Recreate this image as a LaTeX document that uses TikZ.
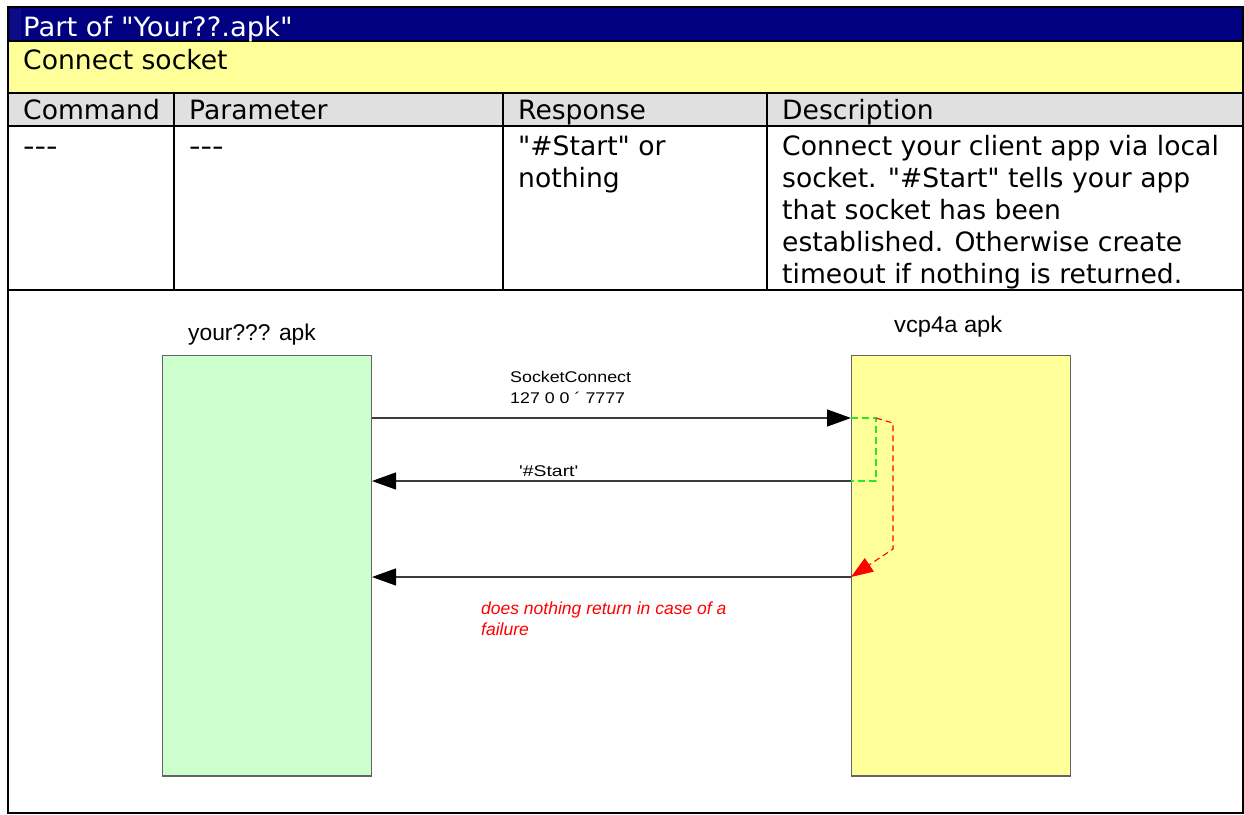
\documentclass[tikz,border=0pt]{standalone}
\usepackage{fontspec}
\newfontfamily\tabfont{DejaVu Sans}
\newfontfamily\diagfont{Liberation Sans}
\usetikzlibrary{arrows.meta}

\definecolor{hdrblue}{RGB}{0,0,128}
\definecolor{hdrstrip}{RGB}{12,12,136}
\definecolor{rowyellow}{RGB}{255,255,153}
\definecolor{rowgray}{RGB}{224,224,224}
\definecolor{appgreen}{RGB}{204,255,204}
\definecolor{appyellow}{RGB}{255,255,153}
\definecolor{boxedge}{RGB}{100,100,100}
\definecolor{msgline}{RGB}{60,60,60}
\definecolor{dashgreen}{RGB}{40,230,40}
\definecolor{dashred}{RGB}{255,0,0}

\begin{document}
\begin{tikzpicture}[x=1pt,y=-1pt,
  cell/.style={anchor=base west, inner sep=0pt, font=\tabfont\fontsize{26.6}{32}\selectfont},
  grid/.style={line width=2pt, black},
  appbox/.style={draw=boxedge, line width=1pt, anchor=north west, inner sep=0pt,
                 minimum width=209pt, minimum height=420pt},
  applabel/.style={anchor=base west, inner sep=0pt, font=\diagfont\fontsize{22.8}{26}\selectfont},
  msglabel/.style={anchor=base west, inner sep=0pt, font=\diagfont\fontsize{15.5}{18}\selectfont},
  notelabel/.style={anchor=base west, inner sep=0pt, text=dashred,
                    font=\diagfont\itshape\fontsize{17.5}{21}\selectfont},
  msg/.style={draw=msgline, line width=1.2pt, -{Triangle[length=24pt,width=17pt,color=black]}},
  loopgreen/.style={draw=dashgreen, line width=1.2pt, dash pattern=on 7pt off 4pt},
  loopred/.style={draw=dashred, line width=1.1pt, dash pattern=on 6pt off 4pt,
                  -{Triangle[length=22pt,width=16pt]}}]
\useasboundingbox (0,0) rectangle (1244,814);

% ---- table backgrounds
\fill[hdrblue] (8,7) rectangle (1243,41);
\fill[hdrstrip] (10,9) rectangle (21,40);
\fill[rowyellow] (8,41) rectangle (1243,93);
\fill[rowgray] (8,93) rectangle (1243,126);

% ---- table rules
\draw[grid] (8,7) rectangle (1243,813);
\draw[grid] (8,41) -- (1243,41);
\draw[grid] (8,93) -- (1243,93);
\draw[grid] (8,126) -- (1243,126);
\draw[grid] (8,290) -- (1243,290);
\draw[grid] (174,93) -- (174,290);
\draw[grid] (503,93) -- (503,290);
\draw[grid] (767,93) -- (767,290);

% ---- table text
\node[cell, text=white] (title) at (23,36) {\scalebox{1.03}[1]{Part of "Your??.apk"}};
\node[cell] (section) at (23,69) {Connect socket};
\node[cell] (hcmd) at (23,119) {Command};
\node[cell] (hpar) at (189,119) {Parameter};
\node[cell] (hres) at (518,119) {Response};
\node[cell] (hdesc) at (782,119) {Description};
\node[cell] (cmd) at (23,155) {\scalebox{1.2}[1]{-{}-{}-}};
\node[cell] (par) at (189,155) {\scalebox{1.2}[1]{-{}-{}-}};
\node[cell] (res1) at (518,155) {"\#Start" or};
\node[cell] (res2) at (518,187) {nothing};
\node[cell] (desc1) at (782,155) {Connect your client app via local};
\node[cell] (desc2) at (782,187) {socket. "\#Start" tells your app};
\node[cell] (desc3) at (782,219) {that socket has been};
\node[cell] (desc4) at (782,251) {established. Otherwise create};
\node[cell] (desc5) at (782,283) {timeout if nothing is returned.};

% ---- sequence diagram: the two apps
\node[appbox, fill=appgreen] (yours) at (162,355) {};
\node[appbox, fill=appyellow, minimum width=219pt] (vcp) at (851,355) {};
\draw[boxedge, line width=2pt] (yours.south west) -- (yours.south east);
\draw[boxedge, line width=2pt] (vcp.south west) -- (vcp.south east);
\node[applabel] (yourslbl) at (188,340) {your??? apk};
\node[applabel] (vcplbl) at (894,332) {\scalebox{1.04}[1]{vcp4a apk}};

% ---- message levels
\coordinate (lv1) at (0,418);
\coordinate (lv2) at (0,481);
\coordinate (lv3) at (0,577);

% ---- messages
\draw[msg] (yours.east |- lv1) -- (vcp.west |- lv1);
\draw[msg] (vcp.west |- lv2) -- (yours.east |- lv2);
\draw[msg] (vcp.west |- lv3) -- (yours.east |- lv3);

\node[msglabel] (connlbl1) at (510,382) {\scalebox{1.15}[1]{SocketConnect}};
\node[msglabel] (connlbl2) at (510,403) {\scalebox{1.15}[1]{127 0 0 ´ 7777}};
\node[msglabel] (startlbl) at (519,476) {\scalebox{1.25}[1]{\textquotesingle\#Start\textquotesingle}};

% ---- internal handling inside vcp4a
\draw[loopgreen] (vcp.west |- lv1) -- ++(25,0) |- (vcp.west |- lv2);
\coordinate (redtop) at (893,423);
\coordinate (redbot) at (893,549);
\draw[loopred] (876,418) -- (redtop) -- (redbot) -- (vcp.west |- lv3);

\node[notelabel] (note1) at (481,614) {does nothing return in case of a};
\node[notelabel] (note2) at (481,635) {failure};
\end{tikzpicture}
\end{document}
